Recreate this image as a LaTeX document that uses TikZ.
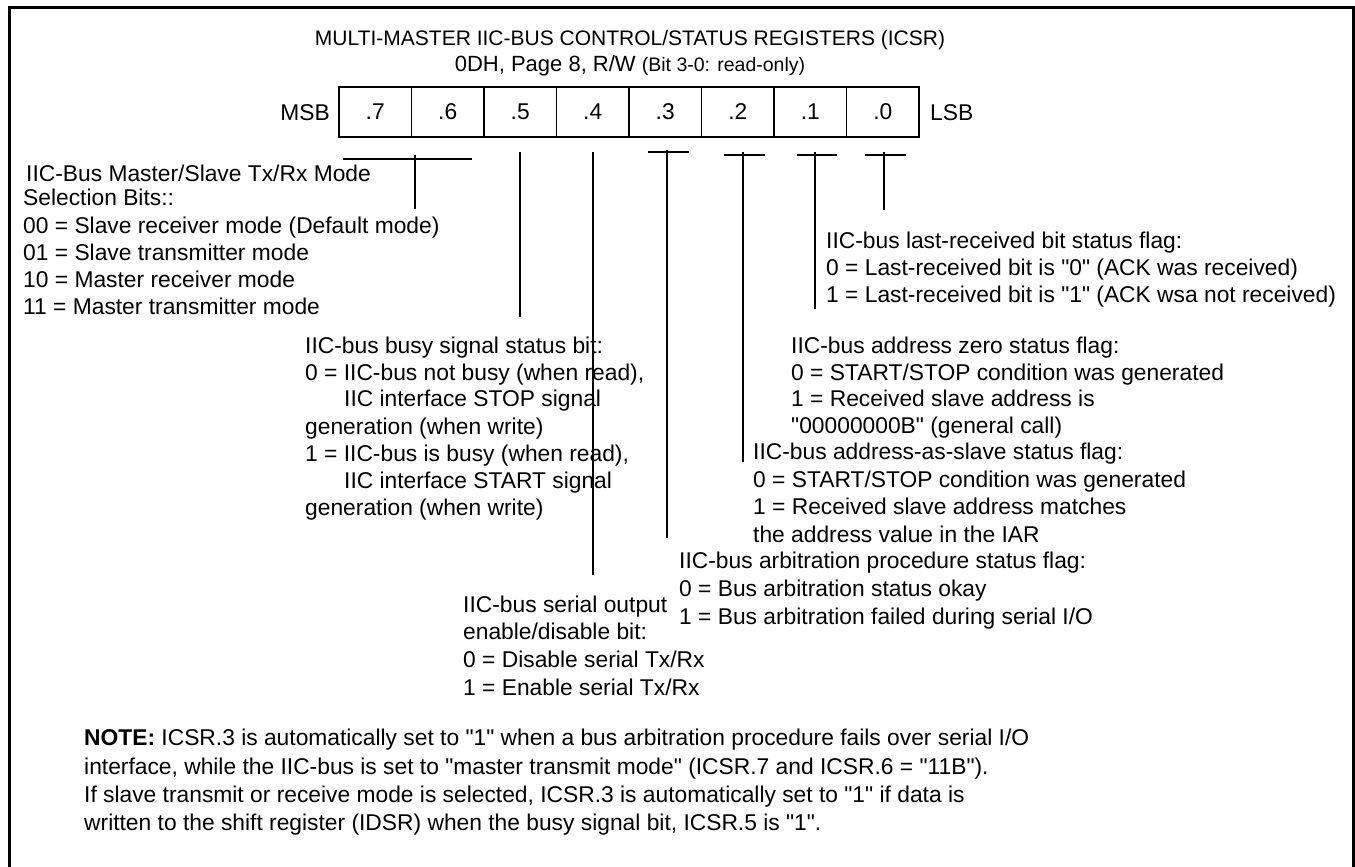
\documentclass[tikz,border=0pt]{standalone}
\usepackage{fontspec}
\setmainfont{Liberation Sans}
\newcommand{\bodyfont}{\fontsize{22.8}{27}\selectfont}
\newcommand{\titlefont}{\fontsize{21}{24}\selectfont}
\newcommand{\qq}{\textquotedbl}
\tikzset{
  txt/.style={anchor=base west, inner sep=0pt, font=\bodyfont},
  cell/.style={draw, line width=1.4pt, minimum width=72.5pt, minimum height=50pt, inner sep=0pt, font=\bodyfont},
  lead/.style={line width=1.3pt},
}
\begin{document}
\begin{tikzpicture}[x=1pt,y=-1pt]
\useasboundingbox (0,0) rectangle (1355,867);
\draw[line width=3pt] (9,880) -- (9,8) -- (1353,8) -- (1353,880);
% title
\node[anchor=base, inner sep=0pt, font=\titlefont] (t1) at (630,46) {MULTI-MASTER IIC-BUS CONTROL/STATUS REGISTERS (ICSR)};
\node[anchor=base, inner sep=0pt, font=\fontsize{22}{24}\selectfont] (t2) at (630,71) {0DH, Page 8, R/W {\fontsize{19.5}{20}\selectfont (Bit 3-0: read-only)}};
% register
\foreach \i/\lab in {7/.7,6/.6,5/.5,4/.4,3/.3,2/.2,1/.1,0/.0}{
  \node[cell] (b\i) at ({339+72.5*(7-\i)+36.25},112) {\lab};
}
\node[anchor=base east, inner sep=0pt, font=\bodyfont] (msb) at (330,120) {MSB};
\node[anchor=base west, inner sep=0pt, font=\bodyfont] (lsb) at (930,120) {LSB};
% leader coordinates
\coordinate (h76a) at (343,159); \coordinate (h76b) at (472,159);
\coordinate (v76a) at (415,155); \coordinate (v76b) at (415,209);
\coordinate (v5a) at (520,152); \coordinate (v5b) at (520,317);
\coordinate (v4a) at (593,152); \coordinate (v4b) at (593,575);
\coordinate (h3a) at (648,152); \coordinate (h3b) at (689,152);
\coordinate (v3a) at (667,150); \coordinate (v3b) at (667,538);
\coordinate (h2a) at (724,155); \coordinate (h2b) at (765,155);
\coordinate (v2a) at (743,152); \coordinate (v2b) at (743,462);
\coordinate (h1a) at (797,155); \coordinate (h1b) at (837,155);
\coordinate (v1a) at (815,152); \coordinate (v1b) at (815,309);
\coordinate (h0a) at (865,155); \coordinate (h0b) at (906,155);
\coordinate (v0a) at (884,152); \coordinate (v0b) at (884,210);
\draw[lead] (h76a) -- (h76b);
\draw[lead] (v76a) -- (v76b);
\draw[lead] (v5a) -- (v5b);
\draw[lead] (v4a) -- (v4b);
\draw[lead] (h3a) -- (h3b);
\draw[lead] (v3a) -- (v3b);
\draw[lead] (h2a) -- (h2b);
\draw[lead] (v2a) -- (v2b);
\draw[lead] (h1a) -- (h1b);
\draw[lead] (v1a) -- (v1b);
\draw[lead] (h0a) -- (h0b);
\draw[lead] (v0a) -- (v0b);
% bits 7-6
\node[txt] (m1) at (26,181) {IIC-Bus Master/Slave Tx/Rx Mode};
\node[txt] (m2) at (23,205) {Selection Bits::};
\node[txt] (m3) at (23,233) {00 = Slave receiver mode (Default mode)};
\node[txt] (m4) at (23,260) {01 = Slave transmitter mode};
\node[txt] (m5) at (23,287) {10 = Master receiver mode};
\node[txt] (m6) at (23,314) {11 = Master transmitter mode};
% bit 5
\node[txt] (s1) at (305,353) {IIC-bus busy signal status bit:};
\node[txt] (s2) at (305,380) {0 = IIC-bus not busy (when read),};
\node[txt] (s3) at (344,406) {IIC interface STOP signal};
\node[txt] (s4) at (305,434) {generation (when write)};
\node[txt] (s5) at (305,461) {1 = IIC-bus is busy (when read),};
\node[txt] (s6) at (344,488) {IIC interface START signal};
\node[txt] (s7) at (305,515) {generation (when write)};
% bit 0
\node[txt] (l1) at (826,248) {IIC-bus last-received bit status flag:};
\node[txt] (l2) at (826,275) {0 = Last-received bit is \qq0\qq{} (ACK was received)};
\node[txt] (l3) at (826,302) {1 = Last-received bit is \qq1\qq{} (ACK wsa not received)};
% bit 1
\node[txt] (z1) at (791,353) {IIC-bus address zero status flag:};
\node[txt] (z2) at (791,380) {0 = START/STOP condition was generated};
\node[txt] (z3) at (791,406) {1 = Received slave address is};
\node[txt] (z4) at (791,433) {\qq00000000B\qq{} (general call)};
% bit 2
\node[txt] (a1) at (753,459) {IIC-bus address-as-slave status flag:};
\node[txt] (a2) at (753,487) {0 = START/STOP condition was generated};
\node[txt] (a3) at (753,514) {1 = Received slave address matches};
\node[txt] (a4) at (753,542) {the address value in the IAR};
% bit 3
\node[txt] (r1) at (679,568) {IIC-bus arbitration procedure status flag:};
\node[txt] (r2) at (679,596) {0 = Bus arbitration status okay};
\node[txt] (r3) at (679,624) {1 = Bus arbitration failed during serial I/O};
% bit 4
\node[txt] (o1) at (463,612) {IIC-bus serial output};
\node[txt] (o2) at (463,639) {enable/disable bit:};
\node[txt] (o3) at (463,667) {0 = Disable serial Tx/Rx};
\node[txt] (o4) at (463,695) {1 = Enable serial Tx/Rx};
% note
\node[txt] (n1) at (84,745) {\textbf{NOTE:} ICSR.3 is automatically set to \qq1\qq{} when a bus arbitration procedure fails over serial I/O};
\node[txt] (n2) at (84,774) {interface, while the IIC-bus is set to \qq master transmit mode\qq{} (ICSR.7 and ICSR.6 = \qq11B\qq).};
\node[txt] (n3) at (84,802) {If slave transmit or receive mode is selected, ICSR.3 is automatically set to \qq1\qq{} if data is};
\node[txt] (n4) at (84,830) {written to the shift register (IDSR) when the busy signal bit, ICSR.5 is \qq1\qq.};
\end{tikzpicture}
\end{document}
